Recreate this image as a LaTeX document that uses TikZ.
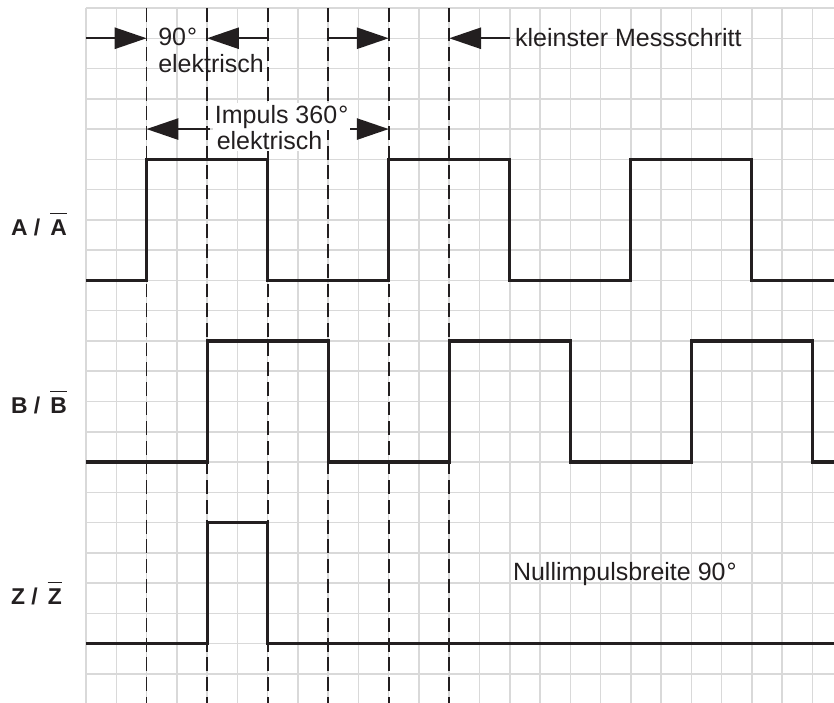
\documentclass[tikz,border=0pt]{standalone}
\usepackage{fontspec}
\setmainfont{Liberation Sans}
\usetikzlibrary{arrows.meta,positioning}
\definecolor{tdgrid}{RGB}{217,217,217}
\definecolor{tdink}{RGB}{35,31,32}
\tikzset{
  tdgridline/.style={draw=tdgrid, line width=1.4pt},
  tdmark/.style={draw=tdink, line width=1.8pt, dash pattern=on 13pt off 5.5pt},
  tdsignal/.style={draw=tdink, line width=2.9pt, line join=miter},
  tdarrow/.style={draw=tdink, line width=1.8pt, -{Triangle[length=30pt,width=20pt]}},
  tdtext/.style={anchor=base west, inner sep=0pt, text=tdink, font=\fontsize{23.5}{27}\selectfont},
  tdlabel/.style={anchor=base west, inner sep=0pt, text=tdink, font=\fontsize{21.5}{25}\selectfont\bfseries},
  tdbar/.style={draw=tdink, line width=1.2pt}
}

\begin{document}
\begin{tikzpicture}
\useasboundingbox (-2.841,-0.96) rectangle (24.711,22.264);
% grid
\foreach \gx in {0,...,24} \draw[tdgridline] (\gx,-0.96) -- (\gx,22);
\foreach \gy in {0,...,22} \draw[tdgridline] (0,\gy) -- (24.8,\gy);
% phase marks
\foreach \mx in {2,4,...,12} \draw[tdmark] (\mx,22) -- (\mx,-0.96);
\foreach \mx in {0,2,...,14} {
  \coordinate (t\mx) at (\mx,21);
  \coordinate (u\mx) at (\mx,18);
}
\coordinate (imps) at (4.1,18);
\coordinate (impe) at (8.5,18);
% signals
\draw[tdsignal] (0,13) \foreach \px in {2,10,18} {-- (\px,13) -- (\px,17) -- (\px+4,17) -- (\px+4,13)} -- (24.8,13);
\draw[tdsignal] (0,7) \foreach \px in {4,12,20} {-- (\px,7) -- (\px,11) -- (\px+4,11) -- (\px+4,7)} -- (24.8,7);
\draw[tdsignal] (0,1) -- (4,1) -- (4,5) -- (6,5) -- (6,1) -- (24.8,1);
% channel names
\node[tdlabel] (lblA) at (-2.48,14.5) {A /};
\node[tdlabel, base right=9pt of lblA] (lblAn) {A};
\node[tdlabel] (lblB) at (-2.48,8.62) {B /};
\node[tdlabel, base right=9pt of lblB] (lblBn) {B};
\node[tdlabel] (lblZ) at (-2.48,2.3) {Z /};
\node[tdlabel, base right=9pt of lblZ] (lblZn) {Z};
\foreach \n in {lblAn,lblBn,lblZn}
  \draw[tdbar] ([yshift=5.5pt]\n.north west) -- ([yshift=5.5pt]\n.north east);
% texts
\node[tdtext] (deg) at (2.38,20.75) {90\kern1pt°};
\node[tdtext] (elA) at (2.38,19.86) {elektrisch};
\node[tdtext] (kms) at (14.17,20.72) {kleinster Messschritt};
\node[tdtext] (nib) at (14.1,3.1) {Nullimpulsbreite 90\kern1pt°};
% dimension arrows
\draw[tdarrow] (t0) -- (t2);
\draw[tdarrow] (t6) -- (t4);
\draw[tdarrow] (t8) -- (t10);
\draw[tdarrow] (t14) -- (t12);
\draw[tdarrow] (imps) -- (u2);
\draw[tdarrow] (impe) -- (u10);
\node[tdtext, fill=white, inner sep=1.5pt] (imp) at (4.2,18.2) {Impuls 360\kern1pt°};
\node[tdtext, fill=white, inner sep=1.5pt] (elB) at (4.26,17.34) {elektrisch};
\end{tikzpicture}
\end{document}
